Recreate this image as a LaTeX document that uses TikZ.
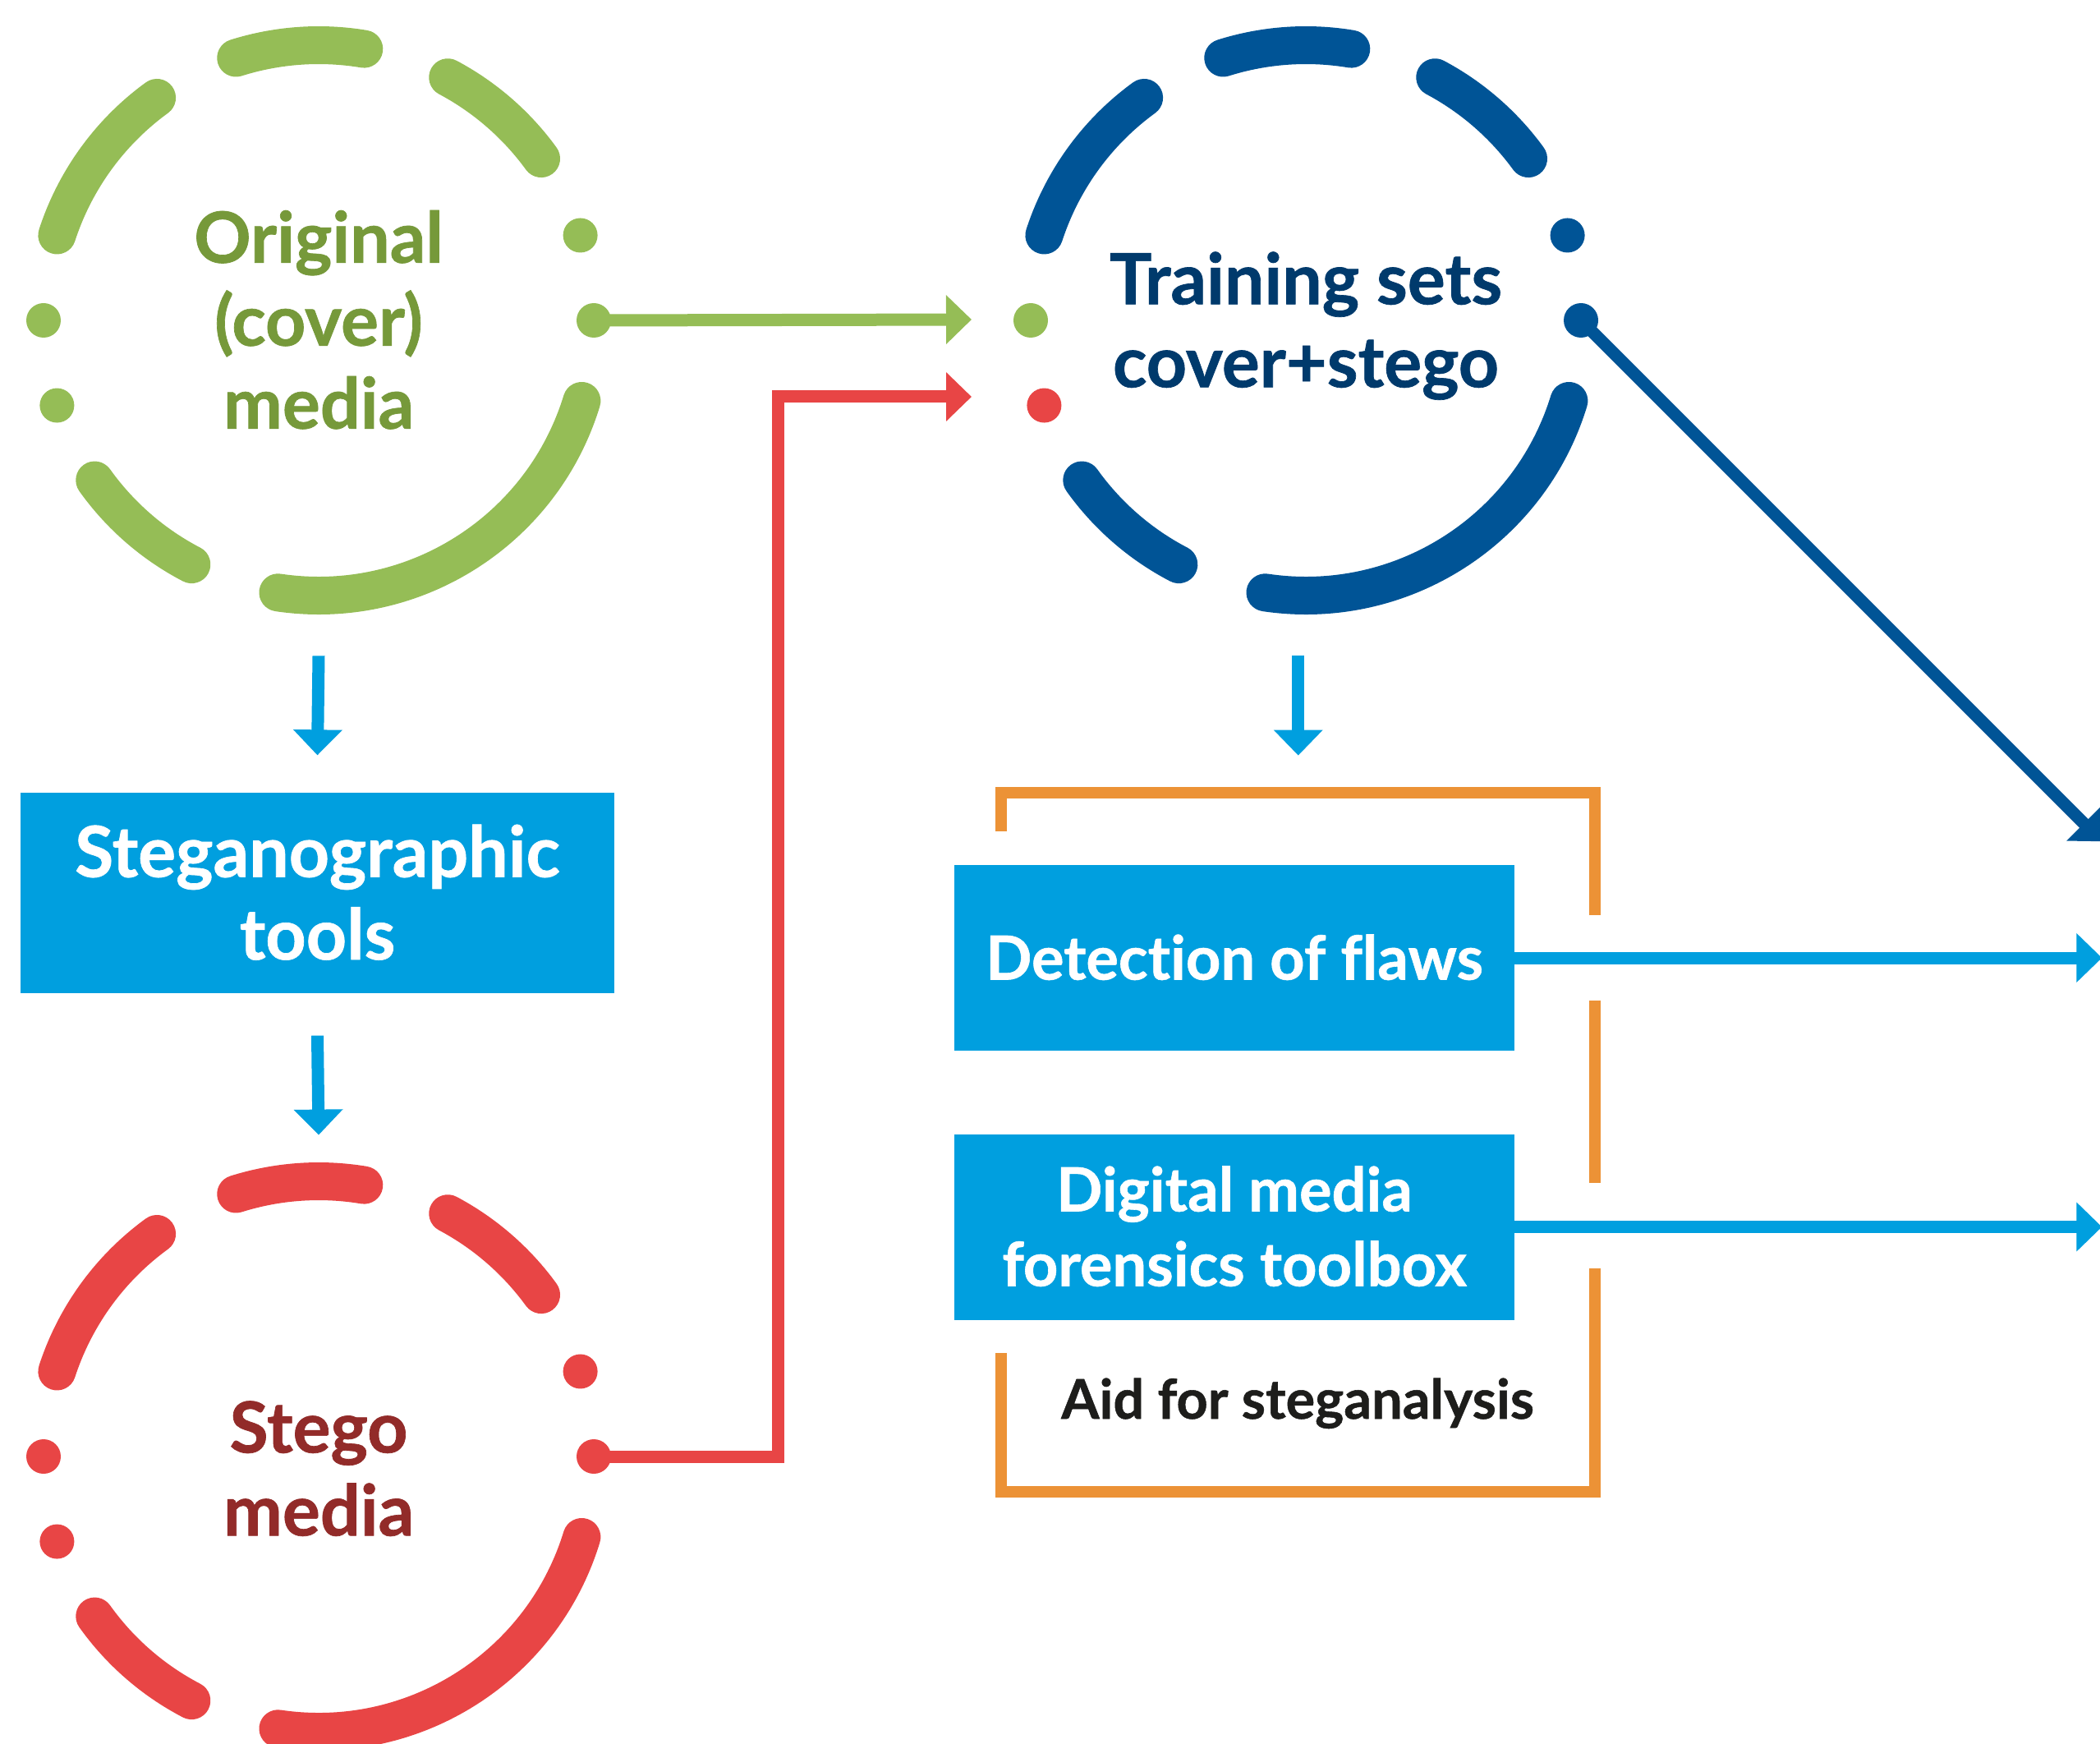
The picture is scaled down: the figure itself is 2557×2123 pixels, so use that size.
\documentclass[tikz,border=0pt]{standalone}
\usepackage{fontspec}
\setmainfont{Lato}[Ligatures=NoCommon,BoldFeatures={FakeBold=0.8}]
\usetikzlibrary{arrows.meta,calc}
\definecolor{cgreen}{HTML}{95BD56}
\definecolor{tgreen}{HTML}{76993A}
\definecolor{cblue}{HTML}{005496}
\definecolor{tblue}{HTML}{003A6C}
\definecolor{cred}{HTML}{E84545}
\definecolor{tred}{HTML}{922B29}
\definecolor{lblue}{HTML}{009FDF}
\definecolor{corange}{HTML}{EC9236}
\definecolor{tblack}{HTML}{1D1D1B}
\tikzset{
  ring/.style={line width=23pt, line cap=round},
  flowline/.style={line width=7.5pt, -{Triangle[length=15.5pt,width=29pt]}},
  ringnode/.style={circle, minimum size=357pt, inner sep=0pt, align=center, font=\bfseries\fontsize{43}{50.5}\selectfont},
  bluebox/.style={rectangle, fill=lblue, text=white, inner sep=0pt, align=center},
  framepath/.style={draw=corange, line width=7pt},
  ringdot/.style={radius=21},
}
\newcommand\ringdashes[2]{%
  \foreach \sa/\ea in {80.5/107.5,36/62,-98.5/-17,215.5/242.5,126/162}
    \draw[ring,draw=#2] ($(#1)+(\sa:335)$) arc[start angle=\sa,end angle=\ea,radius=335];
}
\begin{document}
\begin{tikzpicture}[x=0.5pt,y=0.5pt]
\useasboundingbox (0,0) rectangle (2557,-2123);
\clip (0,0) rectangle (2557,-2123);

% ring nodes
\node[ringnode, text=tgreen, text height=131.8pt, text depth=0pt] (cover) at (388,-390) {Original\\(cover)\\media};
\node[ringnode, text=tblue, text height=81.3pt, text depth=0pt] (train) at (1590,-390) {Training sets\\cover+stego};
\node[ringnode, text=tred, text height=96.3pt, text depth=0pt] (stego) at (388,-1773) {Stego\\media};

% dashed rings
\ringdashes{cover}{cgreen}
\ringdashes{train}{cblue}
\ringdashes{stego}{cred}

% ring dots
\coordinate (coverout) at ($(cover)+(0:335)$);
\coordinate (trainout) at ($(train)+(0:335)$);
\coordinate (stegoout) at ($(stego)+(0:335)$);
\foreach \a in {0,18,180,198} \fill[cgreen] ($(cover)+(\a:335)$) circle[ringdot];
\foreach \a in {0,18} \fill[cblue] ($(train)+(\a:335)$) circle[ringdot];
\fill[cgreen] ($(train)+(180:335)$) circle[ringdot];
\fill[cred] ($(train)+(198:335)$) circle[ringdot];
\foreach \a in {0,18,180,198} \fill[cred] ($(stego)+(\a:335)$) circle[ringdot];

% boxes
\node[bluebox, minimum width=361.5pt, minimum height=122.25pt, font=\bfseries\fontsize{43}{50.25}\selectfont, text height=81.05pt, text depth=0pt] (tools) at (386.5,-1087) {Steganographic\\tools};
\node[bluebox, minimum width=341pt, minimum height=113pt, font=\bfseries\fontsize{37}{45.5}\selectfont, text height=26.5pt, text depth=0pt] (detect) at (1503,-1166) {Detection of flaws};
\node[bluebox, minimum width=341pt, minimum height=113pt, font=\bfseries\fontsize{37}{45.5}\selectfont, text height=72pt, text depth=0pt] (forensic) at (1503,-1493.5) {Digital media\\forensics toolbox};

% orange frame
\node[minimum width=361.25pt, minimum height=425.25pt, inner sep=0pt] (frame) at (1580.75,-1390.75) {};
\draw[framepath] ($(frame.north west)+(0,-47)$) -- (frame.north west) -- (frame.north east) -- ($(frame.north east)+(0,-148.5)$);
\draw[framepath] ($(frame.north east)+(0,-252.5)$) -- ($(frame.north east)+(0,-475)$);
\draw[framepath] ($(frame.north east)+(0,-578.5)$) -- (frame.south east) -- (frame.south west) -- ($(frame.south west)+(0,169)$);
\node[anchor=base, text=tblack, inner sep=0pt, font=\bfseries\fontsize{33.3}{40}\selectfont] (aid) at (1580,-1727) {Aid for steganalysis};

% connectors
\coordinate (greenin) at ($(train)+(-407,1)$);
\coordinate (redin) at ($(train)+(-407,-93)$);
\draw[flowline, color=cgreen] (coverout) -- (greenin);
\draw[flowline, color=cred] (stegoout) -- ++(224,0) |- (redin);
\draw[flowline, color=cblue] (trainout) -- ++(-45:897);
\draw[flowline, color=lblue] (detect.east) -- ++(715,0);
\draw[flowline, color=lblue] (forensic.east) -- ++(715,0);
\draw[flowline, color=lblue] ($(cover.south)+(0,-51)$) -- ($(tools.north)+(0,45)$);
\draw[flowline, color=lblue] ($(tools.south)+(0,-51)$) -- ($(stego.north)+(0,34)$);
\draw[flowline, color=lblue] ($(frame.north)+(0,167.5)$) -- ($(frame.north)+(0,45.5)$);
\end{tikzpicture}
\end{document}
